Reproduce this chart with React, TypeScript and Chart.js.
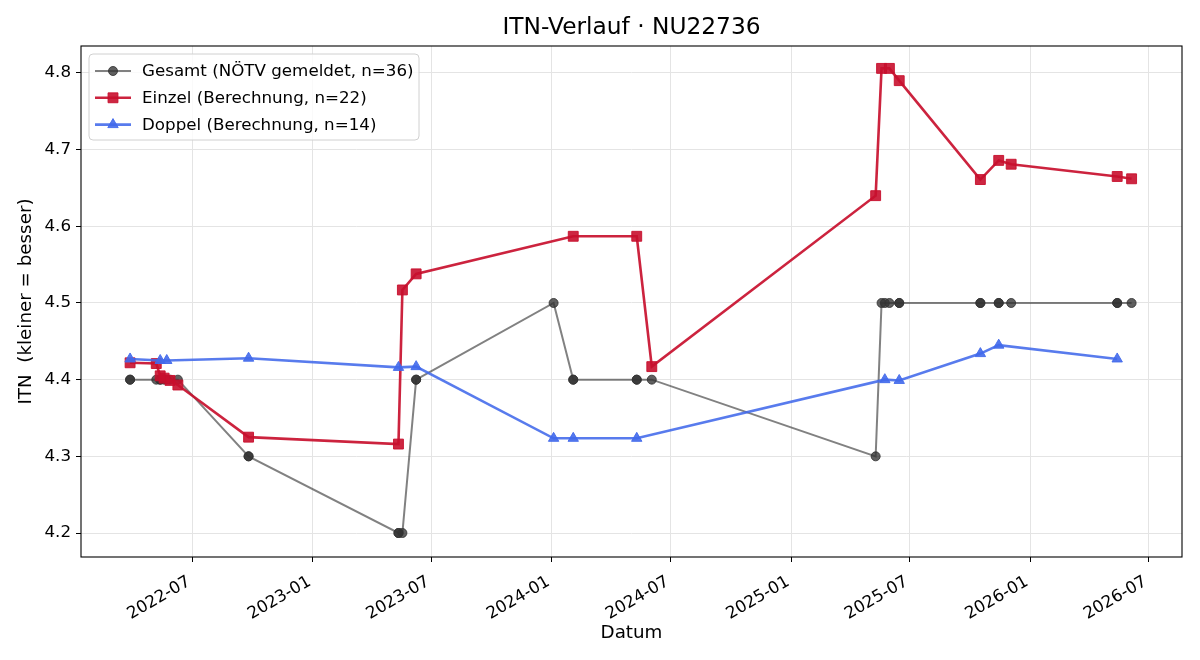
import React, { useEffect, useRef } from 'react';
import { Chart, registerables } from 'chart.js';
import { drawPoint } from 'chart.js/helpers';

Chart.register(...registerables);

const TITLE = 'ITN-Verlauf · NU22736';
const X_TITLE = 'Datum';
const Y_TITLE = 'ITN  (kleiner = besser)';

const GESAMT_LABEL = 'Gesamt (NÖTV gemeldet, n=36)';
const EINZEL_LABEL = 'Einzel (Berechnung, n=22)';
const DOPPEL_LABEL = 'Doppel (Berechnung, n=14)';

const GESAMT_DATES = [
  '2022-03-28', '2022-03-28', '2022-05-07', '2022-05-13', '2022-05-13', '2022-05-19',
  '2022-05-23', '2022-05-28', '2022-06-09', '2022-09-25', '2022-09-25', '2023-05-12',
  '2023-05-12', '2023-05-18', '2023-06-08', '2023-06-08', '2024-01-04', '2024-02-03',
  '2024-02-03', '2024-05-10', '2024-05-10', '2024-06-02', '2025-05-10', '2025-05-19',
  '2025-05-24', '2025-05-31', '2025-06-15', '2025-06-15', '2025-10-17', '2025-10-17',
  '2025-11-14', '2025-11-14', '2025-12-03', '2026-05-14', '2026-05-14', '2026-06-05',
];
const GESAMT_VALUES = [
  4.4, 4.4, 4.4, 4.4, 4.4, 4.4,
  4.4, 4.4, 4.4, 4.3, 4.3, 4.2,
  4.2, 4.2, 4.4, 4.4, 4.5, 4.4,
  4.4, 4.4, 4.4, 4.4, 4.3, 4.5,
  4.5, 4.5, 4.5, 4.5, 4.5, 4.5,
  4.5, 4.5, 4.5, 4.5, 4.5, 4.5,
];

const EINZEL_DATES = [
  '2022-03-28', '2022-05-07', '2022-05-13', '2022-05-19', '2022-05-28', '2022-06-09',
  '2022-09-25', '2023-05-12', '2023-05-18', '2023-06-08', '2024-02-03', '2024-05-10',
  '2024-06-02', '2025-05-10', '2025-05-19', '2025-05-31', '2025-06-15', '2025-10-17',
  '2025-11-14', '2025-12-03', '2026-05-14', '2026-06-05',
];
const EINZEL_VALUES = [
  4.422, 4.421, 4.405, 4.402, 4.399, 4.393,
  4.325, 4.316, 4.517, 4.538, 4.587, 4.587,
  4.417, 4.640, 4.806, 4.806, 4.790, 4.661,
  4.686, 4.681, 4.665, 4.662,
];

const DOPPEL_DATES = [
  '2022-03-28', '2022-05-13', '2022-05-23', '2022-09-25', '2023-05-12', '2023-06-08',
  '2024-01-04', '2024-02-03', '2024-05-10', '2025-05-24', '2025-06-15', '2025-10-17',
  '2025-11-14', '2026-05-14',
];
const DOPPEL_VALUES = [
  4.427, 4.425, 4.425, 4.428, 4.416, 4.417,
  4.3235, 4.3235, 4.3235, 4.400, 4.399, 4.434,
  4.445, 4.427,
];

const X_TICK_LABELS = ['2022-07', '2023-01', '2023-07', '2024-01', '2024-07', '2025-01', '2025-07', '2026-01', '2026-07'];
const Y_TICKS = [4.2, 4.3, 4.4, 4.5, 4.6, 4.7, 4.8];
const X_RANGE = ['2022-01-12', '2026-08-21'];
const Y_RANGE = [4.1687, 4.8352];

const FONT = '"DejaVu Sans", "Liberation Sans", sans-serif';

const dayNum = (s: string) => {
  const [y, m, d] = s.split('-').map(Number);
  return Date.UTC(y, m - 1, d || 1) / 86400000;
};
const fmtMonth = (v: number) => {
  const d = new Date(Math.round(v) * 86400000);
  return d.getUTCFullYear() + '-' + String(d.getUTCMonth() + 1).padStart(2, '0');
};
const toPoints = (dates: string[], values: number[]) => dates.map((d, i) => ({ x: dayNum(d), y: values[i] }));

const overlayPlugin = {
  id: 'overlay',
  afterDatasetsDraw(chart: any) {
    const { ctx, chartArea: a } = chart;
    ctx.save();
    ctx.strokeStyle = '#000';
    ctx.lineWidth = 1.1;
    ctx.strokeRect(a.left, a.top, a.right - a.left, a.bottom - a.top);
    ctx.restore();
  },
  afterDraw(chart: any) {
    const { ctx, chartArea: a } = chart;
    ctx.save();
    // title
    ctx.fillStyle = '#000';
    ctx.font = `23.3px ${FONT}`;
    ctx.textAlign = 'center';
    ctx.textBaseline = 'middle';
    ctx.fillText(TITLE, (a.left + a.right) / 2, 28);

    // legend
    const lx = 89, ly = 54, lw = 330, lh = 86, r = 4;
    ctx.beginPath();
    ctx.moveTo(lx + r, ly);
    ctx.lineTo(lx + lw - r, ly);
    ctx.quadraticCurveTo(lx + lw, ly, lx + lw, ly + r);
    ctx.lineTo(lx + lw, ly + lh - r);
    ctx.quadraticCurveTo(lx + lw, ly + lh, lx + lw - r, ly + lh);
    ctx.lineTo(lx + r, ly + lh);
    ctx.quadraticCurveTo(lx, ly + lh, lx, ly + lh - r);
    ctx.lineTo(lx, ly + r);
    ctx.quadraticCurveTo(lx, ly, lx + r, ly);
    ctx.closePath();
    ctx.fillStyle = 'rgba(255,255,255,0.8)';
    ctx.fill();
    ctx.strokeStyle = '#d0d0d0';
    ctx.lineWidth = 1;
    ctx.stroke();

    const legendOrder = [0, 1, 2];
    legendOrder.forEach((di, row) => {
      const ds = chart.data.datasets[di];
      const y = 71 + row * 26.8;
      ctx.strokeStyle = ds.borderColor;
      ctx.lineWidth = ds.borderWidth;
      ctx.beginPath();
      ctx.moveTo(95, y);
      ctx.lineTo(131, y);
      ctx.stroke();
      ctx.fillStyle = ds.pointBackgroundColor;
      ctx.strokeStyle = ds.pointBorderColor;
      ctx.lineWidth = ds.pointBorderWidth;
      drawPoint(ctx, { pointStyle: ds.pointStyle, radius: ds.pointRadius, rotation: 0, borderWidth: ds.pointBorderWidth }, 113, y);
      ctx.fillStyle = '#000';
      ctx.font = `16.7px ${FONT}`;
      ctx.textAlign = 'left';
      ctx.textBaseline = 'middle';
      ctx.fillText(ds.label, 142, y + 1);
    });
    ctx.restore();
  },
};

export default function App() {
  const ref = useRef<HTMLCanvasElement | null>(null);

  useEffect(() => {
    document.body.style.margin = '0';
    const canvas = ref.current;
    if (!canvas) return;
    const xTickValues = X_TICK_LABELS.map((l) => dayNum(l + '-01'));

    const chart = new Chart(canvas, {
      type: 'line',
      data: {
        datasets: [
          {
            label: GESAMT_LABEL,
            data: toPoints(GESAMT_DATES, GESAMT_VALUES),
            borderColor: 'rgba(51,51,51,0.62)',
            borderWidth: 2,
            pointStyle: 'circle',
            pointRadius: 4.5,
            pointBorderWidth: 1,
            pointBackgroundColor: 'rgba(51,51,51,0.78)',
            pointBorderColor: 'rgba(51,51,51,0.85)',
            tension: 0,
            order: 3,
          },
          {
            label: EINZEL_LABEL,
            data: toPoints(EINZEL_DATES, EINZEL_VALUES),
            borderColor: 'rgba(200,16,46,0.92)',
            borderWidth: 2.6,
            pointStyle: 'rect',
            pointRadius: 7,
            pointBorderWidth: 1,
            pointBackgroundColor: 'rgba(200,16,46,0.9)',
            pointBorderColor: 'rgba(200,16,46,0.9)',
            tension: 0,
            order: 2,
          },
          {
            label: DOPPEL_LABEL,
            data: toPoints(DOPPEL_DATES, DOPPEL_VALUES),
            borderColor: 'rgba(65,105,235,0.88)',
            borderWidth: 2.6,
            pointStyle: 'triangle',
            pointRadius: 6,
            pointBorderWidth: 1,
            pointBackgroundColor: 'rgba(65,105,235,0.9)',
            pointBorderColor: 'rgba(65,105,235,0.9)',
            tension: 0,
            order: 1,
          },
        ],
      },
      options: {
        responsive: false,
        animation: false,
        devicePixelRatio: 1,
        layout: { padding: { top: 46, right: 18, bottom: 0, left: 0 }, autoPadding: false },
        plugins: {
          legend: { display: false },
          title: { display: false },
          tooltip: { enabled: false },
        },
        scales: {
          x: {
            type: 'linear',
            min: dayNum(X_RANGE[0]),
            max: dayNum(X_RANGE[1]),
            afterFit: (s: any) => { s.height = 103; },
            afterBuildTicks: (s: any) => { s.ticks = xTickValues.map((v) => ({ value: v })); },
            ticks: {
              callback: (v: any) => fmtMonth(Number(v)),
              minRotation: 30,
              maxRotation: 30,
              autoSkip: false,
              padding: 10,
              labelOffset: -3,
              color: '#000',
              font: { family: FONT, size: 16.7 },
            },
            grid: { color: '#e4e4e4', lineWidth: 1, tickColor: '#000', tickLength: 5, tickWidth: 1 },
            border: { display: false },
            title: {
              display: true,
              text: X_TITLE,
              color: '#000',
              font: { family: FONT, size: 18.3 },
              padding: { top: 0, bottom: 16 },
            },
          },
          y: {
            type: 'linear',
            min: Y_RANGE[0],
            max: Y_RANGE[1],
            afterFit: (s: any) => { s.width = 81; },
            afterBuildTicks: (s: any) => { s.ticks = Y_TICKS.map((v) => ({ value: v })); },
            ticks: {
              callback: (v: any) => Number(v).toFixed(1),
              padding: 5,
              color: '#000',
              font: { family: FONT, size: 16.7 },
            },
            grid: { color: '#e4e4e4', lineWidth: 1, tickColor: '#000', tickLength: 5, tickWidth: 1 },
            border: { display: false },
            title: {
              display: true,
              text: Y_TITLE,
              color: '#000',
              font: { family: FONT, size: 18.3 },
              padding: { top: 15, bottom: 0 },
            },
          },
        },
      },
      plugins: [overlayPlugin],
    } as any);

    return () => chart.destroy();
  }, []);

  return (
    <div style={{ position: 'absolute', left: 0, top: 0, width: 1200, height: 660 }}>
      <canvas ref={ref} width={1200} height={660} style={{ display: 'block', width: 1200, height: 660 }} />
    </div>
  );
}
